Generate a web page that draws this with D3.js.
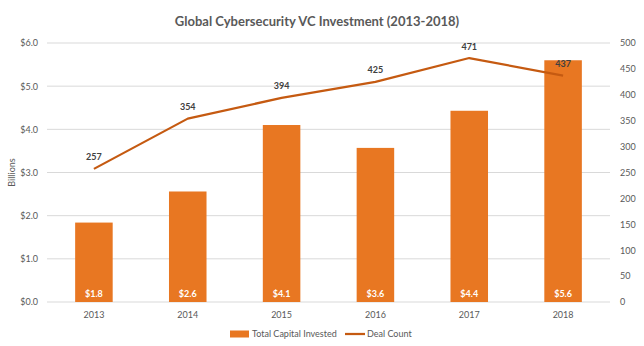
<!DOCTYPE html>
<html>
<head>
<meta charset="utf-8">
<script src="https://cdn.jsdelivr.net/npm/d3@7"></script>
<style>
  body { margin: 0; background: #fff; }
  text { font-family: Lato, "Open Sans", sans-serif; }
</style>
</head>
<body>
<div class="container"></div>
<script>
const years = ["2013", "2014", "2015", "2016", "2017", "2018"];
const capital = [1.84, 2.56, 4.1, 3.57, 4.43, 5.6];
const deals = [257, 354, 394, 425, 471, 437];
const leftTicks = [0, 1, 2, 3, 4, 5, 6];
const rightTicks = [0, 50, 100, 150, 200, 250, 300, 350, 400, 450, 500];

const w = 644, h = 346;
const margin = { top: 43, bottom: 44, left: 47, right: 34 };

const svg = d3.select(".container")
  .append("svg")
  .attr("width", w)
  .attr("height", h);

const x = d3.scaleBand()
  .domain(years)
  .range([margin.left, w - margin.right])
  .paddingInner(0.6)
  .paddingOuter(0.3);

const yL = d3.scaleLinear().domain([0, 6]).range([h - margin.bottom, margin.top]);
const yR = d3.scaleLinear().domain([0, 500]).range([h - margin.bottom, margin.top]);

const grey = "#595959";
const fs = "9px";

// gridlines
svg.append("g")
  .selectAll("line")
  .data(leftTicks)
  .join("line")
  .attr("x1", margin.left)
  .attr("x2", w - margin.right)
  .attr("y1", d => yL(d))
  .attr("y2", d => yL(d))
  .attr("stroke", "#d9d9d9")
  .attr("stroke-width", 1);

// left axis
const axL = svg.append("g")
  .attr("transform", `translate(${margin.left - 6},0)`)
  .call(d3.axisLeft(yL).tickValues(leftTicks).tickSize(0).tickFormat(d => "$" + d.toFixed(1)));
axL.select(".domain").remove();
axL.selectAll("text").attr("fill", grey).style("font-size", fs);

// right axis
const axR = svg.append("g")
  .attr("transform", `translate(${w - margin.right + 7},0)`)
  .call(d3.axisRight(yR).tickValues(rightTicks).tickSize(0));
axR.select(".domain").remove();
axR.selectAll("text").attr("fill", grey).style("font-size", fs);

// x axis
const axX = svg.append("g")
  .attr("transform", `translate(0,${h - margin.bottom + 7})`)
  .call(d3.axisBottom(x).tickSize(0));
axX.select(".domain").remove();
axX.selectAll("text").attr("fill", grey).style("font-size", fs);

// bars
svg.append("g")
  .selectAll("rect")
  .data(years)
  .join("rect")
  .attr("x", d => x(d))
  .attr("width", x.bandwidth())
  .attr("y", (d, i) => yL(capital[i]))
  .attr("height", (d, i) => yL(0) - yL(capital[i]))
  .attr("fill", "#e87722");

svg.append("g")
  .selectAll("text")
  .data(years)
  .join("text")
  .attr("x", d => x(d) + x.bandwidth() / 2)
  .attr("y", yL(0) - 5)
  .attr("text-anchor", "middle")
  .attr("fill", "#fff")
  .style("font-size", fs)
  .style("font-weight", "bold")
  .text((d, i) => "$" + capital[i].toFixed(1));

// line
const line = d3.line()
  .x((d, i) => x(years[i]) + x.bandwidth() / 2)
  .y(d => yR(d));

svg.append("path")
  .datum(deals)
  .attr("fill", "none")
  .attr("stroke", "#c55a11")
  .attr("stroke-width", 2.25)
  .attr("stroke-linejoin", "round")
  .attr("d", line);

svg.append("g")
  .selectAll("text")
  .data(deals)
  .join("text")
  .attr("x", (d, i) => x(years[i]) + x.bandwidth() / 2)
  .attr("y", d => yR(d) - 8.5)
  .attr("text-anchor", "middle")
  .attr("fill", "#404040")
  .style("font-size", fs)
  .style("font-weight", "bold")
  .text(d => d);

// title
svg.append("text")
  .attr("x", 317)
  .attr("y", 26)
  .attr("text-anchor", "middle")
  .attr("fill", grey)
  .style("font-size", "13px")
  .style("font-weight", "bold")
  .text("Global Cybersecurity VC Investment (2013-2018)");

// y label
svg.append("text")
  .attr("transform", `translate(15,${(yL(0) + yL(6)) / 2}) rotate(-90)`)
  .attr("text-anchor", "middle")
  .attr("fill", grey)
  .style("font-size", fs)
  .text("Billions");

// legend
const lg = svg.append("g").attr("transform", `translate(230,${h - 12})`);
lg.append("rect").attr("x", 0).attr("y", -3.5).attr("width", 19).attr("height", 7).attr("fill", "#e87722");
lg.append("text").attr("x", 22).attr("y", 3).attr("fill", grey).style("font-size", fs).text("Total Capital Invested");
lg.append("line").attr("x1", 115).attr("x2", 135).attr("y1", 0).attr("y2", 0).attr("stroke", "#c55a11").attr("stroke-width", 2.25);
lg.append("text").attr("x", 137).attr("y", 3).attr("fill", grey).style("font-size", fs).text("Deal Count");
</script>
</body>
</html>
